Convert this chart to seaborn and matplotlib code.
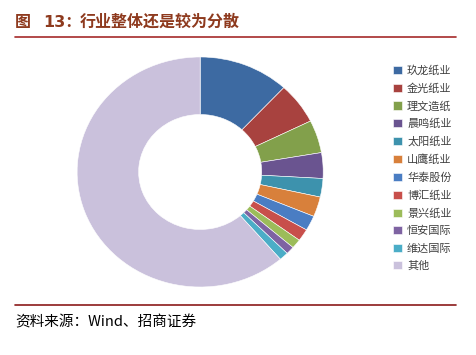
import matplotlib
matplotlib.use("Agg")
import matplotlib.pyplot as plt
import seaborn as sns
from matplotlib.lines import Line2D

# data (share of output, %)
companies = ["玖龙纸业", "金光纸业", "理文造纸", "晨鸣纸业", "太阳纸业", "山鹰纸业",
             "华泰股份", "博汇纸业", "景兴纸业", "恒安国际", "维达国际", "其他"]
shares = [11.9, 5.8, 4.6, 3.6, 2.6, 2.8, 2.1, 1.7, 1.3, 1.1, 1.2, 61.3]
colors = ["#3D6AA2", "#A8423F", "#82A04B", "#6A5490", "#3D92AD", "#D8803B",
          "#4A7DC3", "#C84F4B", "#9CBC5A", "#7E63A2", "#4BADC7", "#CAC1DC"]

sns.set_theme(style="white")
plt.rcParams["font.family"] = ["Noto Sans CJK SC", "DejaVu Sans"]

fig = plt.figure(figsize=(4.76, 3.55), dpi=100)
pal = sns.color_palette(colors)

ax = fig.add_axes([0.162, 0.1915, 0.517, 0.648])
wedges, _ = ax.pie(shares, colors=pal, startangle=90, counterclock=False,
                   radius=1.0, wedgeprops=dict(width=0.5, edgecolor="white", linewidth=0.4))
ax.set_aspect("auto")
ax.set_xlim(-1, 1)
ax.set_ylim(-1, 1)
ax.axis("off")

fig.legend(wedges, companies, loc="upper left", bbox_to_anchor=(0.805, 0.845),
           frameon=False, fontsize=8, handlelength=0.75, handleheight=0.75,
           handletextpad=0.5, labelspacing=0.66, labelcolor="#404040")

# title and rules
title_col = "#8E3A1E"
fig.text(0.032, 0.938, "图", fontsize=11.5, color=title_col, va="center", fontweight="bold")
fig.text(0.09, 0.938, "13：", fontsize=11.5, color=title_col, va="center",
         fontweight="bold", family=["DejaVu Sans", "Noto Sans CJK SC"])
fig.text(0.168, 0.938, "行业整体还是较为分散", fontsize=11.5, color=title_col,
         va="center", fontweight="bold")
fig.add_artist(Line2D([0.032, 0.957], [0.895, 0.895], color="#A52A2A", lw=1.2))
fig.add_artist(Line2D([0.032, 0.957], [0.14, 0.14], color="#8B1A1A", lw=1.2))
fig.text(0.032, 0.093, "资料来源：Wind、招商证券", fontsize=10.5, color="black", va="center")

fig.savefig("out.png", dpi=100)
